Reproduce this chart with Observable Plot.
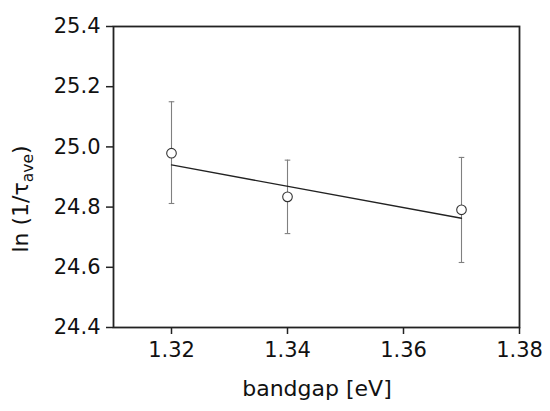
<!DOCTYPE html>
<html>
<head>
<meta charset="utf-8">
<script src="https://cdn.jsdelivr.net/npm/d3@7"></script>
<script src="https://cdn.jsdelivr.net/npm/@observablehq/plot@0.6"></script>
<style>
  html, body { margin: 0; padding: 0; background: #fff; }
</style>
</head>
<body>
<div id="chart"></div>
<script>
// Data
const bandgap = [1.32, 1.34, 1.37];
const lnRate = [24.979, 24.834, 24.791];
const errTop = [25.150, 24.956, 24.965];
const errBottom = [24.812, 24.712, 24.616];
const fitX = [1.32, 1.37];
const fitY = [24.940, 24.763];
const xTicks = [1.32, 1.34, 1.36, 1.38];
const yTicks = [24.4, 24.6, 24.8, 25.0, 25.2, 25.4];
const xLabel = "bandgap [eV]";
const yLabelMain = "ln (1/τ";
const yLabelSub = "ave";
const yLabelEnd = ")";

const points = bandgap.map((x, i) => ({x, y: lnRate[i], y1: errBottom[i], y2: errTop[i]}));
const caps = points.flatMap(d => [{x: d.x, y: d.y1}, {x: d.x, y: d.y2}]);
const fit = fitX.map((x, i) => ({x, y: fitY[i]}));

const capSymbol = {
  draw(context, size) {
    const r = Math.sqrt(size / Math.PI);
    context.moveTo(-r, 0);
    context.lineTo(r, 0);
  }
};

const chart = Plot.plot({
  width: 550,
  height: 411,
  marginLeft: 113,
  marginRight: 31,
  marginTop: 26,
  marginBottom: 84,
  style: {fontFamily: "DejaVu Sans", background: "#fff", color: "#111"},
  x: {domain: [1.31, 1.38]},
  y: {domain: [24.4, 25.4]},
  marks: [
    Plot.axisX({ticks: xTicks, tickFormat: d => d.toFixed(2), tickSize: 7, tickPadding: 8, fontSize: 21, label: null, stroke: "#222", strokeWidth: 1.5, fill: "#111"}),
    Plot.axisY({ticks: yTicks, tickFormat: d => d.toFixed(1), tickSize: 7, tickPadding: 6, fontSize: 21, label: null, stroke: "#222", strokeWidth: 1.5, fill: "#111"}),
    Plot.frame({stroke: "#222", strokeWidth: 1.8}),
    Plot.ruleX(points, {x: "x", y1: "y1", y2: "y2", stroke: "#808080", strokeWidth: 1.1}),
    Plot.dot(caps, {x: "x", y: "y", symbol: capSymbol, r: 2.8, stroke: "#808080", strokeWidth: 1.1, fill: "none"}),
    Plot.line(fit, {x: "x", y: "y", stroke: "#222", strokeWidth: 1.3}),
    Plot.dot(points, {x: "x", y: "y", r: 4.8, stroke: "#333", strokeWidth: 1.1, fill: "#fff"})
  ]
});

const svg = d3.select(chart);
svg.append("text")
  .attr("x", 317).attr("y", 396)
  .attr("text-anchor", "middle")
  .attr("font-family", "DejaVu Sans")
  .attr("font-size", 22)
  .attr("fill", "#111")
  .text(xLabel);

const yl = svg.append("text")
  .attr("transform", "translate(28,199) rotate(-90)")
  .attr("text-anchor", "middle")
  .attr("font-family", "DejaVu Sans")
  .attr("font-size", 22)
  .attr("fill", "#111");
yl.append("tspan").text(yLabelMain);
yl.append("tspan").attr("font-size", 15.5).attr("dy", 5).text(yLabelSub);
yl.append("tspan").attr("dy", -5).text(yLabelEnd);

document.getElementById("chart").appendChild(chart);
</script>
</body>
</html>
